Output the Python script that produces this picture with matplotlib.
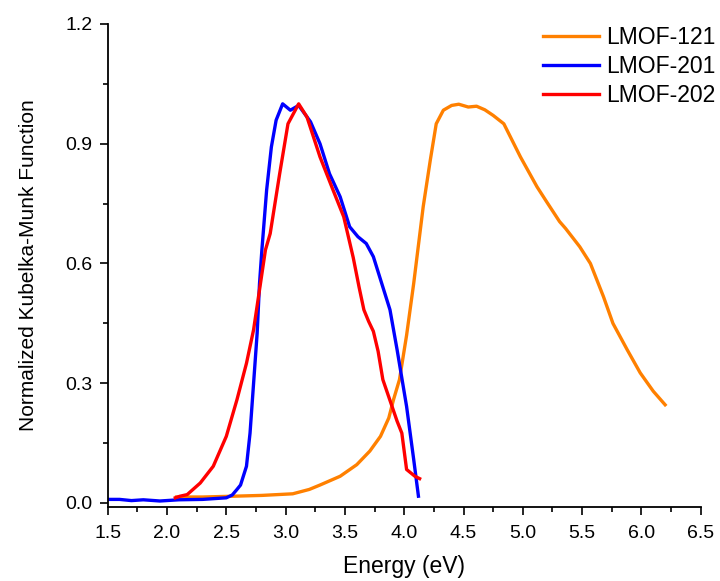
import matplotlib
matplotlib.use("Agg")
import matplotlib.pyplot as plt
from matplotlib.ticker import MultipleLocator

plt.rcParams['font.family'] = ['Liberation Sans', 'DejaVu Sans']

# LMOF-121 (orange)
e_121 = [2.08, 2.30, 2.56, 2.80, 3.06, 3.20, 3.29, 3.46, 3.60, 3.71, 3.80, 3.87, 3.91,
         3.96, 4.02, 4.08, 4.16, 4.22, 4.27, 4.33, 4.40, 4.46, 4.54, 4.61, 4.68, 4.75,
         4.84, 4.98, 5.12, 5.20, 5.31, 5.36, 5.48, 5.57, 5.68, 5.76, 5.88, 5.99, 6.10, 6.20]
km_121 = [0.015, 0.015, 0.017, 0.019, 0.023, 0.034, 0.045, 0.067, 0.096, 0.13, 0.167, 0.213, 0.259,
          0.309, 0.42, 0.55, 0.742, 0.859, 0.95, 0.984, 0.996, 0.999, 0.992, 0.994, 0.985, 0.971,
          0.95, 0.867, 0.792, 0.755, 0.705, 0.688, 0.642, 0.60, 0.517, 0.45, 0.384, 0.326, 0.28, 0.246]

# LMOF-201 (blue)
e_201 = [1.50, 1.60, 1.70, 1.80, 1.94, 2.10, 2.30, 2.50, 2.55, 2.59, 2.62, 2.67, 2.70,
         2.73, 2.76, 2.78, 2.80, 2.84, 2.88, 2.92, 2.975, 3.04, 3.11, 3.21, 3.29, 3.37,
         3.46, 3.54, 3.61, 3.68, 3.74, 3.80, 3.88, 3.94, 4.02, 4.08, 4.12]
km_201 = [0.009, 0.009, 0.006, 0.008, 0.005, 0.008, 0.009, 0.013, 0.02, 0.034, 0.045, 0.092, 0.175,
          0.30, 0.425, 0.55, 0.634, 0.784, 0.892, 0.959, 1.0, 0.984, 0.996, 0.955, 0.90, 0.825,
          0.767, 0.692, 0.667, 0.65, 0.617, 0.56, 0.484, 0.384, 0.242, 0.109, 0.017]

# LMOF-202 (red)
e_202 = [2.07, 2.11, 2.17, 2.28, 2.39, 2.50, 2.59, 2.67, 2.73, 2.78, 2.83, 2.87, 2.95,
         3.02, 3.11, 3.18, 3.29, 3.40, 3.49, 3.57, 3.62, 3.66, 3.70, 3.74, 3.78, 3.82,
         3.94, 3.98, 4.02, 4.09, 4.13]
km_202 = [0.013, 0.017, 0.021, 0.05, 0.092, 0.167, 0.259, 0.35, 0.434, 0.534, 0.634, 0.675, 0.825,
          0.95, 1.0, 0.967, 0.867, 0.784, 0.717, 0.615, 0.54, 0.484, 0.455, 0.43, 0.38, 0.309,
          0.205, 0.175, 0.084, 0.067, 0.061]

fig = plt.figure(figsize=(7.2, 5.81), dpi=100)
ax = fig.add_axes([0.1496, 0.1274, 0.8236, 0.8313])

ax.plot(e_121, km_121, color='#FF8000', lw=2.4, label='LMOF-121')
ax.plot(e_201, km_201, color='#0000FF', lw=2.4, label='LMOF-201')
ax.plot(e_202, km_202, color='#FF0000', lw=2.4, label='LMOF-202')

ax.set_xlim(1.5, 6.5)
ax.set_ylim(-0.01, 1.2)
ax.xaxis.set_major_locator(MultipleLocator(0.5))
ax.xaxis.set_minor_locator(MultipleLocator(0.25))
ax.yaxis.set_major_locator(MultipleLocator(0.3))
ax.yaxis.set_minor_locator(MultipleLocator(0.15))
ax.xaxis.set_major_formatter(plt.FormatStrFormatter('%.1f'))
ax.yaxis.set_major_formatter(plt.FormatStrFormatter('%.1f'))

for s in ['top', 'right']:
    ax.spines[s].set_visible(False)
for s in ['left', 'bottom']:
    ax.spines[s].set_linewidth(1.3)
ax.tick_params(which='major', direction='out', length=6, width=1.2, labelsize=14)
ax.tick_params(which='minor', direction='out', length=3.5, width=1.2)
ax.tick_params(axis='x', which='major', pad=7)
ax.tick_params(axis='y', which='major', pad=5)

ax.set_xlabel('Energy (eV)', fontsize=16.5, labelpad=9)
ax.set_ylabel('Normalized Kubelka-Munk Function', fontsize=15, labelpad=20)

ax.legend(loc='upper right', bbox_to_anchor=(1.022, 0.99), bbox_transform=fig.transFigure,
          frameon=False, fontsize=16.5, handlelength=2.45, handletextpad=0.3, labelspacing=0.25)

fig.savefig('out.png', dpi=100)
